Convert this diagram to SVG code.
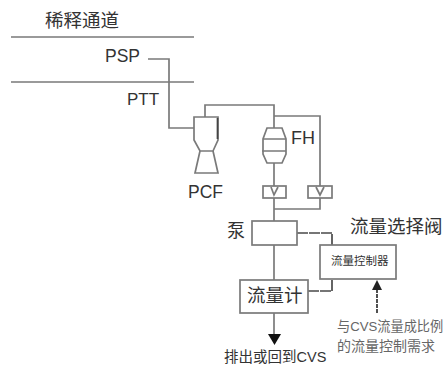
<svg xmlns="http://www.w3.org/2000/svg" width="448" height="367" viewBox="0 0 448 367">
<style>
.l{fill:none;stroke:#7a7a7a;stroke-width:1.700}
.d{fill:none;stroke:#4a4a4a;stroke-width:1.700}
.b{fill:#fff;stroke:#7a7a7a;stroke-width:1.700}
text{font-family:"Liberation Sans","Noto Sans CJK SC",sans-serif;fill:#333}
</style>
<rect width="448" height="367" fill="#fff"/>
<g id="connectors">
<path class="l" d="M11 37H194M11 82H194"/>
<path class="l" d="M148 59H169V128H194"/>
<path class="l" d="M205 117V105H274V128M274 116H320V186"/>
<path class="l" d="M274 163V186"/>
<path class="l" d="M274 198V221M320 198V209H274"/>
<path class="l" d="M274 245V280"/>
<path class="d" d="M297 233H332V245" stroke-dasharray="11 1"/>
<path class="d" d="M308 291H332V279" stroke-dasharray="11 1"/>
<path class="l" d="M274 313V335"/>
<path d="M268 334H281L274.500 345Z" fill="#111"/>
<path d="M377 313V287" fill="none" stroke="#333" stroke-width="1.700" stroke-dasharray="4 1"/>
<path d="M372 290L377 280L382 290Z" fill="#222"/>
</g>
<g id="line-labels">
<text x="45" y="27" font-size="18.500">稀释通道</text>
<text x="105" y="62" font-size="17.500">PSP</text>
<text x="127" y="105" font-size="17">PTT</text>
</g>
<g id="PCF">
<path class="l" d="M194 117H218V140L213 151H200L194 140ZM200 151L195 173H218L213 151"/>
<path d="M217.500 118V139" stroke="#444" stroke-width="1.700"/>
<text x="188" y="198" font-size="17.500">PCF</text>
</g>
<g id="FH">
<path class="b" d="M267 128H282L286 139V154L282 163H267L263 154V139Z"/>
<path class="l" d="M263 139H286M262 151H286"/>
<text x="291" y="144" font-size="18">FH</text>
</g>
<g id="valve1">
<rect class="b" x="263" y="186" width="23" height="12"/>
<path class="l" d="M271 187L274 195L278 187"/>
</g>
<g id="valve2">
<rect class="b" x="308" y="186" width="24" height="12"/>
<path class="l" d="M316 187L320 195L324 187"/>
</g>
<g id="pump">
<rect class="b" x="252" y="221" width="45" height="24"/>
<text x="227" y="237" font-size="18">泵</text>
</g>
<g id="controller">
<rect class="b" x="320" y="245" width="76" height="34"/>
<text x="331" y="265" font-size="11.500">流量控制器</text>
</g>
<g id="flowmeter">
<rect class="b" x="240" y="280" width="68" height="33"/>
<text x="247" y="302" font-size="18.500">流量计</text>
</g>
<g id="labels">
<text x="350" y="233" font-size="18.500">流量选择阀</text>
<text x="337" y="331" font-size="13.200" style="fill:#666">与CVS流量成比例</text>
<text x="337" y="351" font-size="14" style="fill:#666">的流量控制需求</text>
<text x="224" y="362" font-size="14.500">排出或回到CVS</text>
</g>
</svg>
